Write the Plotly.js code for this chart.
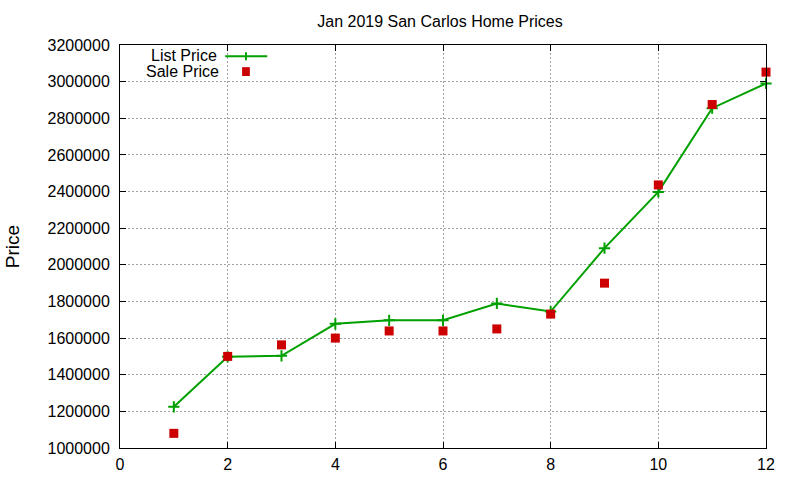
<!DOCTYPE html>
<html>
<head>
<meta charset="utf-8">
<script src="https://cdn.plot.ly/plotly-3.0.1.min.js"></script>
<style>
  body { margin: 0; background: #fff; }
  #chart { width: 800px; height: 480px; }
</style>
</head>
<body>
<div id="chart"></div>
<script>
// homes sold in Jan 2019 (index 1..12)
var homes = [1, 2, 3, 4, 5, 6, 7, 8, 9, 10, 11, 12];
var listPrice = [1225000, 1498000, 1503000, 1678000, 1697000, 1697000, 1789000, 1745000, 2091000, 2398000, 2855000, 2990000];
var salePrice = [1080000, 1500000, 1563000, 1600000, 1639000, 1639000, 1650000, 1731000, 1900000, 2436000, 2875000, 3052000];

var xTicks = [0, 2, 4, 6, 8, 10, 12];
var yTicks = [1000000, 1200000, 1400000, 1600000, 1800000, 2000000, 2200000, 2400000, 2600000, 2800000, 3000000, 3200000];

var green = '#00a000';
var red = '#cc0000';

var traces = [
  {
    x: homes, y: listPrice,
    mode: 'lines+markers',
    name: 'List Price',
    line: { color: green, width: 2 },
    marker: { symbol: 'cross-thin', size: 8, line: { color: green, width: 2 } },
    cliponaxis: false
  },
  {
    x: homes, y: salePrice,
    mode: 'markers',
    name: 'Sale Price',
    marker: { symbol: 'square', size: 9, color: red },
    cliponaxis: false
  }
];

var axisStyle = {
  showline: true, linecolor: '#000', linewidth: 1,
  mirror: 'ticks', ticks: 'inside', ticklen: 6, tickcolor: '#000',
  showgrid: true, gridcolor: '#a0a0a0', griddash: '2px,2px', gridwidth: 1,
  zeroline: false
};

var layout = {
  width: 800, height: 480,
  margin: { l: 120, r: 34, t: 45, b: 32 },
  paper_bgcolor: '#fff', plot_bgcolor: '#fff',
  font: { family: 'Liberation Sans, Arial, sans-serif', size: 16, color: '#000' },
  title: { text: 'Jan 2019 San Carlos Home Prices', x: 0.55, xanchor: 'center', y: 0.955, yanchor: 'middle', font: { size: 16 } },
  showlegend: false,
  xaxis: Object.assign({}, axisStyle, {
    range: [0, 12], tickvals: xTicks, ticklabelstandoff: 2
  }),
  yaxis: Object.assign({}, axisStyle, {
    range: [1000000, 3200000], tickvals: yTicks, tickformat: 'd',
    ticklabelstandoff: 6,
    title: { text: 'Price', standoff: 22 }
  }),
  // gnuplot-style key: label then sample
  annotations: [
    { xref: 'paper', yref: 'paper', x: 0.154, y: 0.973, xanchor: 'right', yanchor: 'middle', text: 'List Price', showarrow: false },
    { xref: 'paper', yref: 'paper', x: 0.156, y: 0.934, xanchor: 'right', yanchor: 'middle', text: 'Sale Price', showarrow: false }
  ],
  shapes: [
    { type: 'line', xref: 'paper', yref: 'paper', x0: 0.163, x1: 0.228, y0: 0.972, y1: 0.972, line: { color: green, width: 2 } },
    { type: 'line', xref: 'paper', yref: 'paper', x0: 0.195, x1: 0.195, y0: 0.962, y1: 0.982, line: { color: green, width: 2 } },
    { type: 'rect', xref: 'paper', yref: 'paper', x0: 0.189, x1: 0.201, y0: 0.923, y1: 0.945, fillcolor: red, line: { width: 0 } }
  ]
};

Plotly.newPlot('chart', traces, layout, { displayModeBar: false, staticPlot: true });
</script>
</body>
</html>
